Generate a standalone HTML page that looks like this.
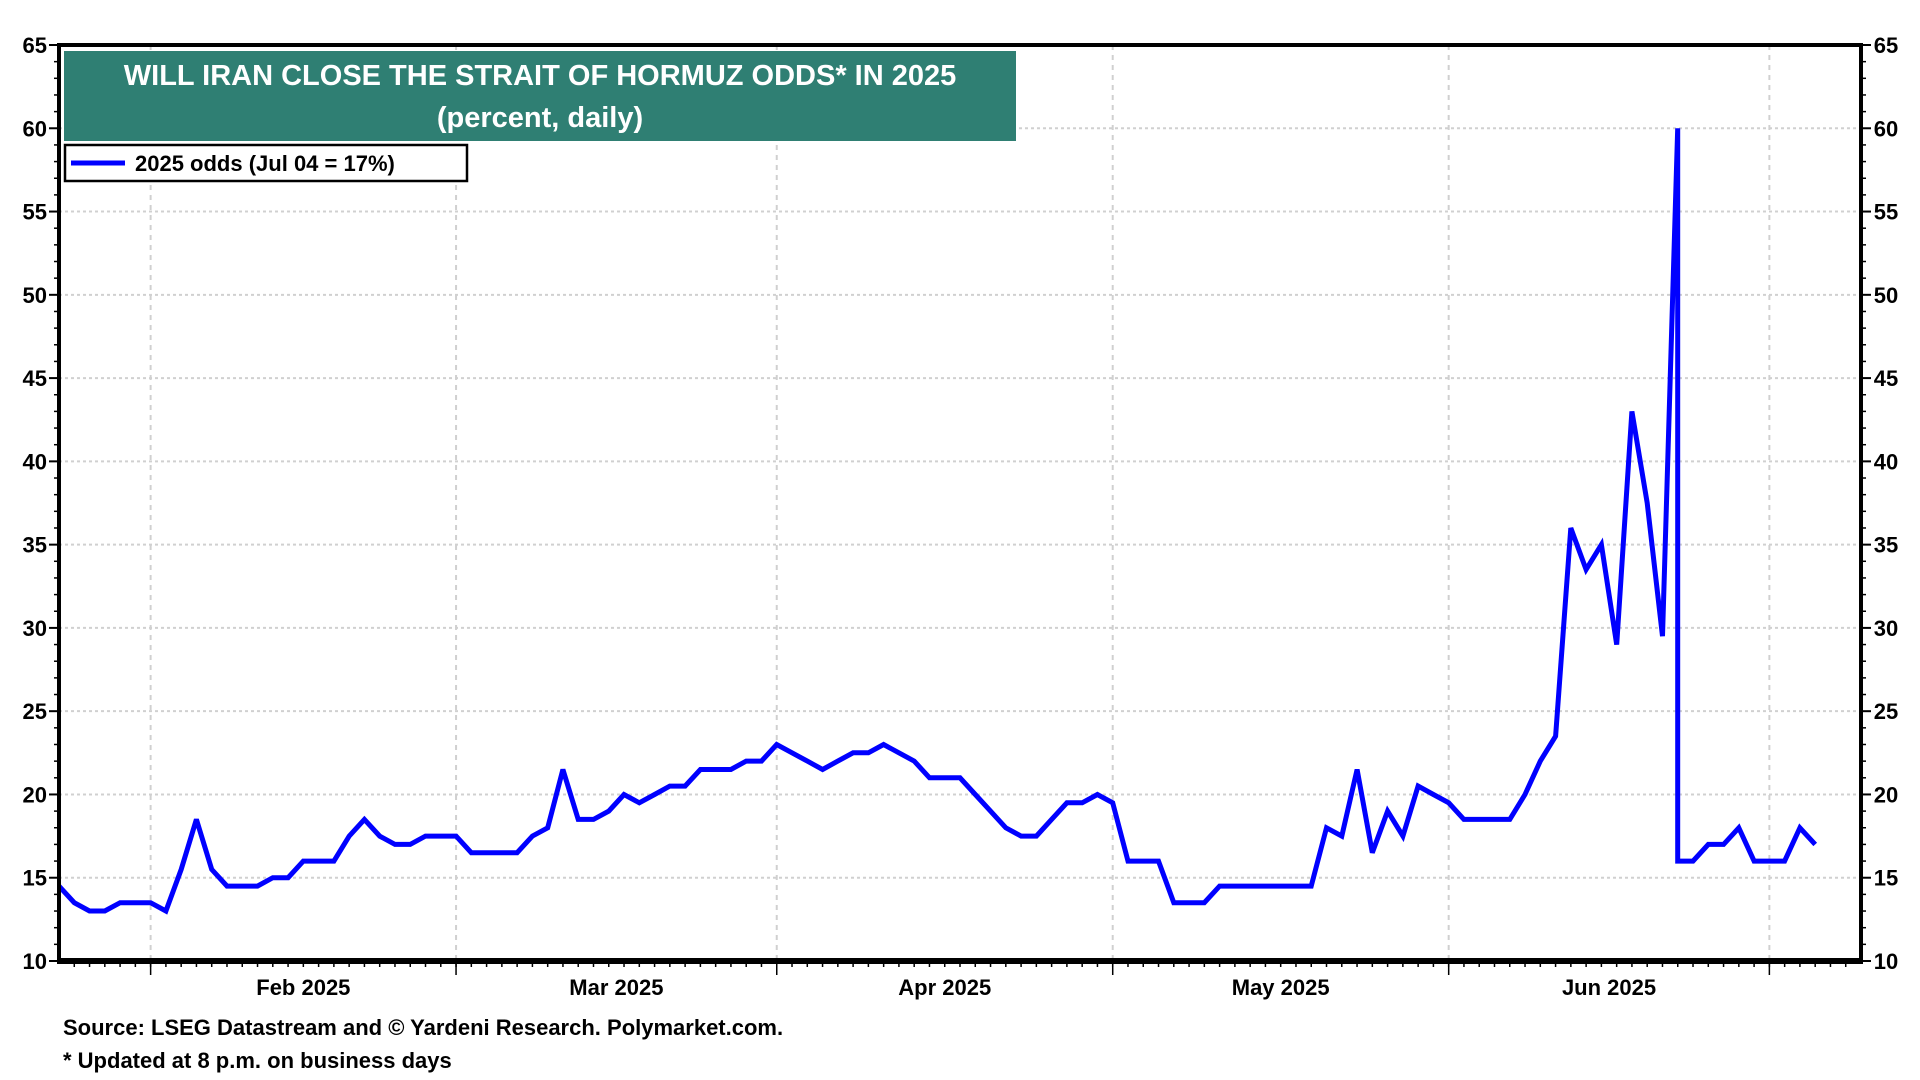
<!DOCTYPE html>
<html><head><meta charset="utf-8"><style>
html,body{margin:0;padding:0;background:#fff;}
svg{display:block;}
text{font-family:"Liberation Sans",Arial,sans-serif;font-weight:bold;}
</style></head><body>
<svg id="chart" width="1920" height="1080" viewBox="0 0 1920 1080" xmlns="http://www.w3.org/2000/svg">
<g id="grid"></g>
<g id="series"></g>
<g id="axes"></g>
<rect x="64" y="51" width="952" height="90" fill="#2f7f73"/>
<text x="540" y="85" fill="#fff" font-size="29" text-anchor="middle">WILL IRAN CLOSE THE STRAIT OF HORMUZ ODDS* IN 2025</text>
<text x="540" y="127" fill="#fff" font-size="29" text-anchor="middle">(percent, daily)</text>
<g>
<rect x="65" y="145" width="402" height="36" fill="#fff" stroke="#000" stroke-width="2.5"/>
<line x1="71" y1="163" x2="125" y2="163" stroke="#0000ff" stroke-width="5"/>
<text x="135" y="171" font-size="22">2025 odds (Jul 04 = 17%)</text>
</g>
<text x="63" y="1035" font-size="22">Source: LSEG Datastream and © Yardeni Research. Polymarket.com.</text>
<text x="63" y="1068" font-size="22">* Updated at 8 p.m. on business days</text>
</svg>
<script>
// business-day index of each observation (Jan 24 2025 = 0)
const days = [];
for (let i = 0; i <= 106; i++) days.push(i);
days.push(106);
for (let i = 107; i <= 115; i++) days.push(i);
const values = [
14.5,13.5,13,13,13.5,13.5,13.5,13,15.5,18.5,
15.5,14.5,14.5,14.5,15,15,16,16,16,17.5,
18.5,17.5,17,17,17.5,17.5,17.5,16.5,16.5,16.5,
16.5,17.5,18,21.5,18.5,18.5,19,20,19.5,20,
20.5,20.5,21.5,21.5,21.5,22,22,23,22.5,22,
21.5,22,22.5,22.5,23,22.5,22,21,21,21,
20,19,18,17.5,17.5,18.5,19.5,19.5,20,19.5,
16,16,16,13.5,13.5,13.5,14.5,14.5,14.5,14.5,
14.5,14.5,14.5,18,17.5,21.5,16.5,19,17.5,20.5,
20,19.5,18.5,18.5,18.5,18.5,20,22,23.5,36,
33.5,35,29,43,37.5,29.5,60,
16,16,17,17,18,16,16,16,18,17
];
const yTicks = [10,15,20,25,30,35,40,45,50,55,60,65];
const monthLabels = ["Feb 2025","Mar 2025","Apr 2025","May 2025","Jun 2025"];
const monthStarts = [6,26,47,69,91,112];
const totalDays = 118;

const L=59, R=1861, T=45, B=961, yMin=10, yMax=65;
const xs = d => L + d*(R-L)/totalDays;
const ys = v => B - (v-yMin)*(B-T)/(yMax-yMin);
const NS="http://www.w3.org/2000/svg";
function mk(tag, attrs, parent){const e=document.createElementNS(NS,tag);for(const k in attrs)e.setAttribute(k,attrs[k]);parent.appendChild(e);return e;}
const grid=document.getElementById('grid'), axes=document.getElementById('axes'), series=document.getElementById('series');

yTicks.forEach(v=>{
  if(v>yMin && v<yMax){
    const g=mk('line',{x1:L,x2:R,y1:ys(v),y2:ys(v),stroke:'#d0d0d0','stroke-width':2,'stroke-dasharray':'3,3'},grid);
    
    
  }
  const t1=mk('text',{x:47,y:ys(v)+8,'font-size':22,'text-anchor':'end'},axes);t1.textContent=v;
  
  
  const t2=mk('text',{x:1886,y:ys(v)+8,'font-size':22,'text-anchor':'middle'},axes);t2.textContent=v;
  
  
  mk('line',{x1:L-10,x2:L,y1:ys(v),y2:ys(v),stroke:'#000','stroke-width':2},axes);
  mk('line',{x1:R,x2:R+10,y1:ys(v),y2:ys(v),stroke:'#000','stroke-width':2},axes);
});
for(let v=yMin+1; v<yMax; v++){
  if(v%5===0) continue;
  mk('line',{x1:L-5,x2:L,y1:ys(v),y2:ys(v),stroke:'#000','stroke-width':1.5},axes);
  mk('line',{x1:R,x2:R+5,y1:ys(v),y2:ys(v),stroke:'#000','stroke-width':1.5},axes);
}
monthStarts.forEach(d=>{
  const g=mk('line',{x1:xs(d),x2:xs(d),y1:T,y2:B,stroke:'#d0d0d0','stroke-width':2,'stroke-dasharray':'5,5'},grid);
  
  
  mk('line',{x1:xs(d),x2:xs(d),y1:B,y2:B+14,stroke:'#000','stroke-width':1.5},axes);
});
for(let d=1; d<totalDays; d++){
  mk('line',{x1:xs(d),x2:xs(d),y1:B,y2:B+6,stroke:'#000','stroke-width':1.5},axes);
}
monthLabels.forEach((m,i)=>{
  const t=mk('text',{x:xs((monthStarts[i]+monthStarts[i+1])/2),y:995,'font-size':22,'text-anchor':'middle'},axes);
  t.textContent=m;
  
  
});
const border=mk('rect',{x:L,y:T,width:R-L,height:B-T,fill:'none',stroke:'#000','stroke-width':4},axes);


mk('line',{x1:L-2,x2:R+2,y1:B,y2:B,stroke:'#000','stroke-width':6},axes);

const pts=days.map((d,i)=>xs(d).toFixed(1)+','+ys(values[i]).toFixed(1)).join(' ');
const line=mk('polyline',{points:pts,fill:'none',stroke:'#0000ff','stroke-width':5,'stroke-linejoin':'miter','stroke-miterlimit':3},series);


</script>
</body></html>
